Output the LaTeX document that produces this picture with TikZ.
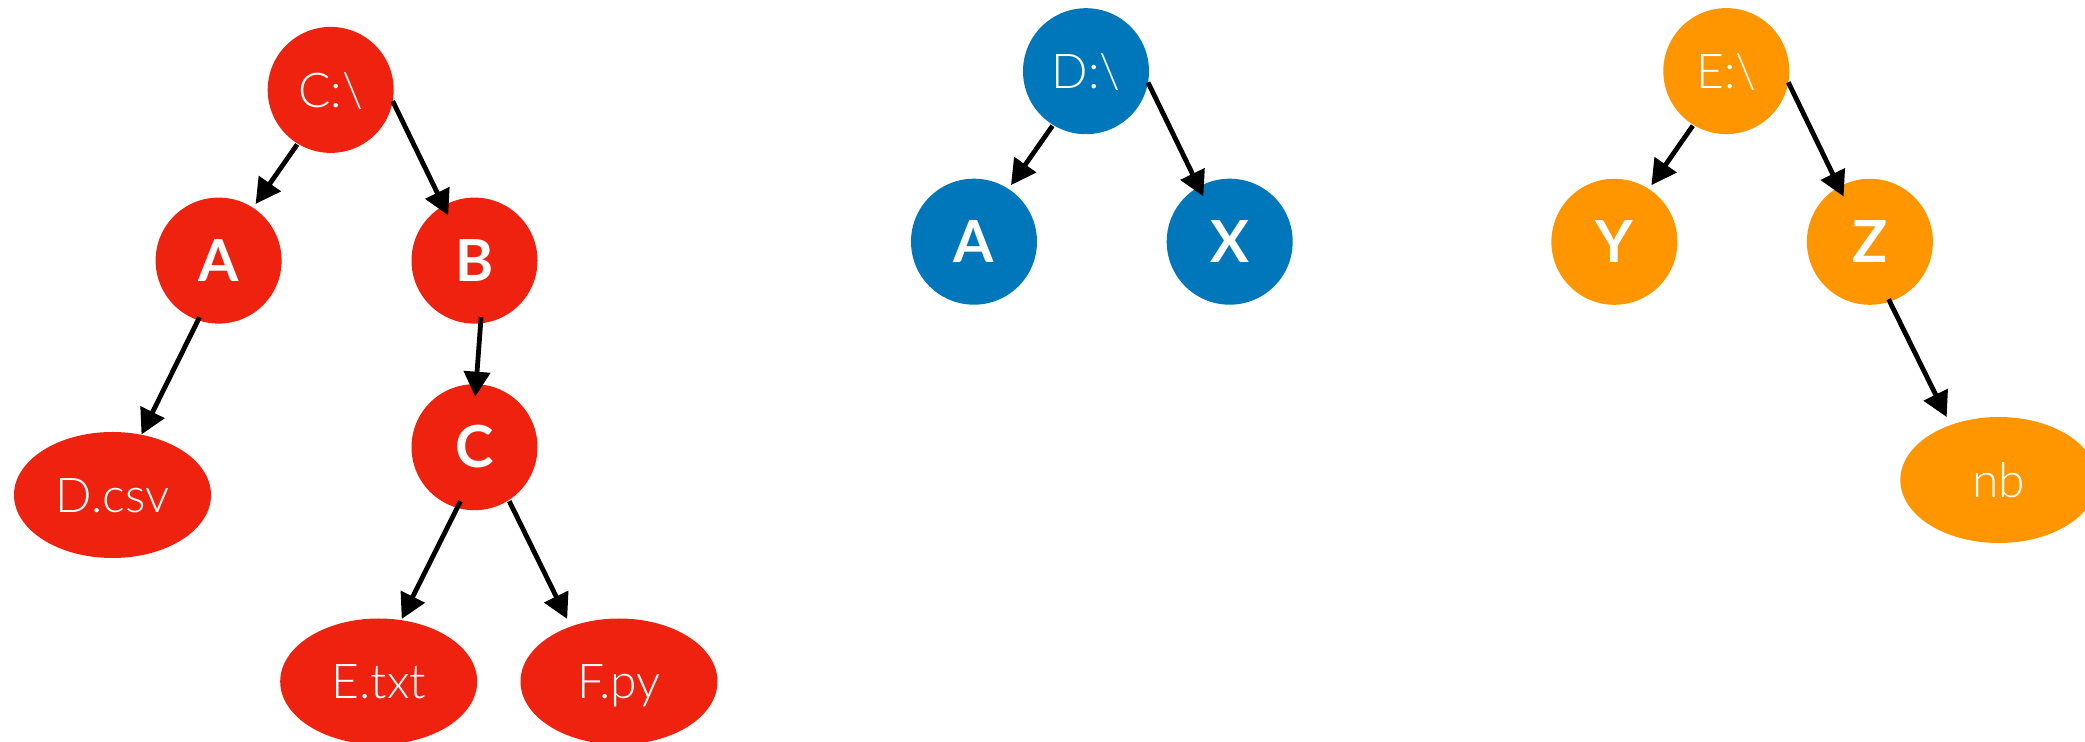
\documentclass[tikz,border=0pt]{standalone}
\usepackage{fontspec}
\newfontfamily\lightf{Lato Light}
\newfontfamily\boldf{Lato}[UprightFont={* Bold}]
\usetikzlibrary{shapes.geometric,arrows.meta,calc}
\definecolor{cred}{HTML}{EE220E}
\definecolor{cblue}{HTML}{0077BB}
\definecolor{corange}{HTML}{FF9600}
\tikzset{
  lightl/.style={font=\lightf\fontsize{24}{28}\selectfont, text height=17.2pt, text depth=0pt},
  boldl/.style={font=\boldf\fontsize{29}{33}\selectfont, text height=20.8pt, text depth=0pt},
  circnode/.style={circle, fill=#1, draw=none, minimum size=63pt, inner sep=0pt, text=white},
  ellnode/.style={ellipse, fill=#1, draw=none, minimum width=98.5pt, minimum height=63pt,
    inner sep=0pt, text=white},
  edge/.style={draw=black, line width=2.4pt, -{Triangle[length=12.5pt,width=13pt]}}
}
\begin{document}
\begin{tikzpicture}[x=0.5pt,y=-0.5pt]
\useasboundingbox (0,0) rectangle (2085,742);
% red tree
\node[circnode=cred, lightl] (rc) at (330.7,89.9) {C:\textbackslash};
\node[circnode=cred, boldl] (ra) at (218.6,260.6) {A};
\node[circnode=cred, boldl] (rb) at (474.5,260.6) {B};
\node[ellnode=cred, lightl] (rd) at (112.5,495) {D.csv};
\node[circnode=cred, boldl] (rcc) at (474.5,447.2) {C};
\node[ellnode=cred, lightl] (re) at (378.7,681.5) {E.txt};
\node[ellnode=cred, lightl] (rf) at (619,681.5) {F.py};
% blue tree
\node[circnode=cblue, lightl] (bd) at (1086,71.2) {D:\textbackslash};
\node[circnode=cblue, boldl] (ba) at (974,241.7) {A};
\node[circnode=cblue, boldl] (bx) at (1229.7,241.7) {X};
% orange tree
\node[circnode=corange, lightl] (oe) at (1726.3,71.1) {E:\textbackslash};
\node[circnode=corange, boldl] (oy) at (1614.4,241.8) {Y};
\node[circnode=corange, boldl] (oz) at (1869.9,241.8) {Z};
\node[ellnode=corange, lightl] (onb) at (1998.8,480) {nb};
% edges
\draw[edge] ($(rc)+(-33.5,54.6)$) -- ($(ra)+(37,-56.6)$);
\draw[edge] ($(rc)+(62,11.2)$) -- ($(rb)+(-26.3,-45.3)$);
\draw[edge] ($(ra)+(-19,56.5)$) -- ($(rd)+(29,-60.5)$);
\draw[edge] ($(rb)+(6.6,56.5)$) -- ($(rcc)+(0.7,-50.5)$);
\draw[edge] ($(rcc)+(-14,54)$) -- ($(re)+(23,-62.5)$);
\draw[edge] ($(rcc)+(34.8,54)$) -- ($(rf)+(-51.8,-62.5)$);
\draw[edge] ($(bd)+(-33.5,54.6)$) -- ($(ba)+(37,-56.6)$);
\draw[edge] ($(bd)+(62,11.2)$) -- ($(bx)+(-26.3,-45.3)$);
\draw[edge] ($(oe)+(-33.5,54.6)$) -- ($(oy)+(37,-56.6)$);
\draw[edge] ($(oe)+(62,11.2)$) -- ($(oz)+(-26.3,-45.3)$);
\draw[edge] ($(oz)+(18.7,57.5)$) -- ($(onb)+(-52.1,-62.9)$);
\end{tikzpicture}
\end{document}
